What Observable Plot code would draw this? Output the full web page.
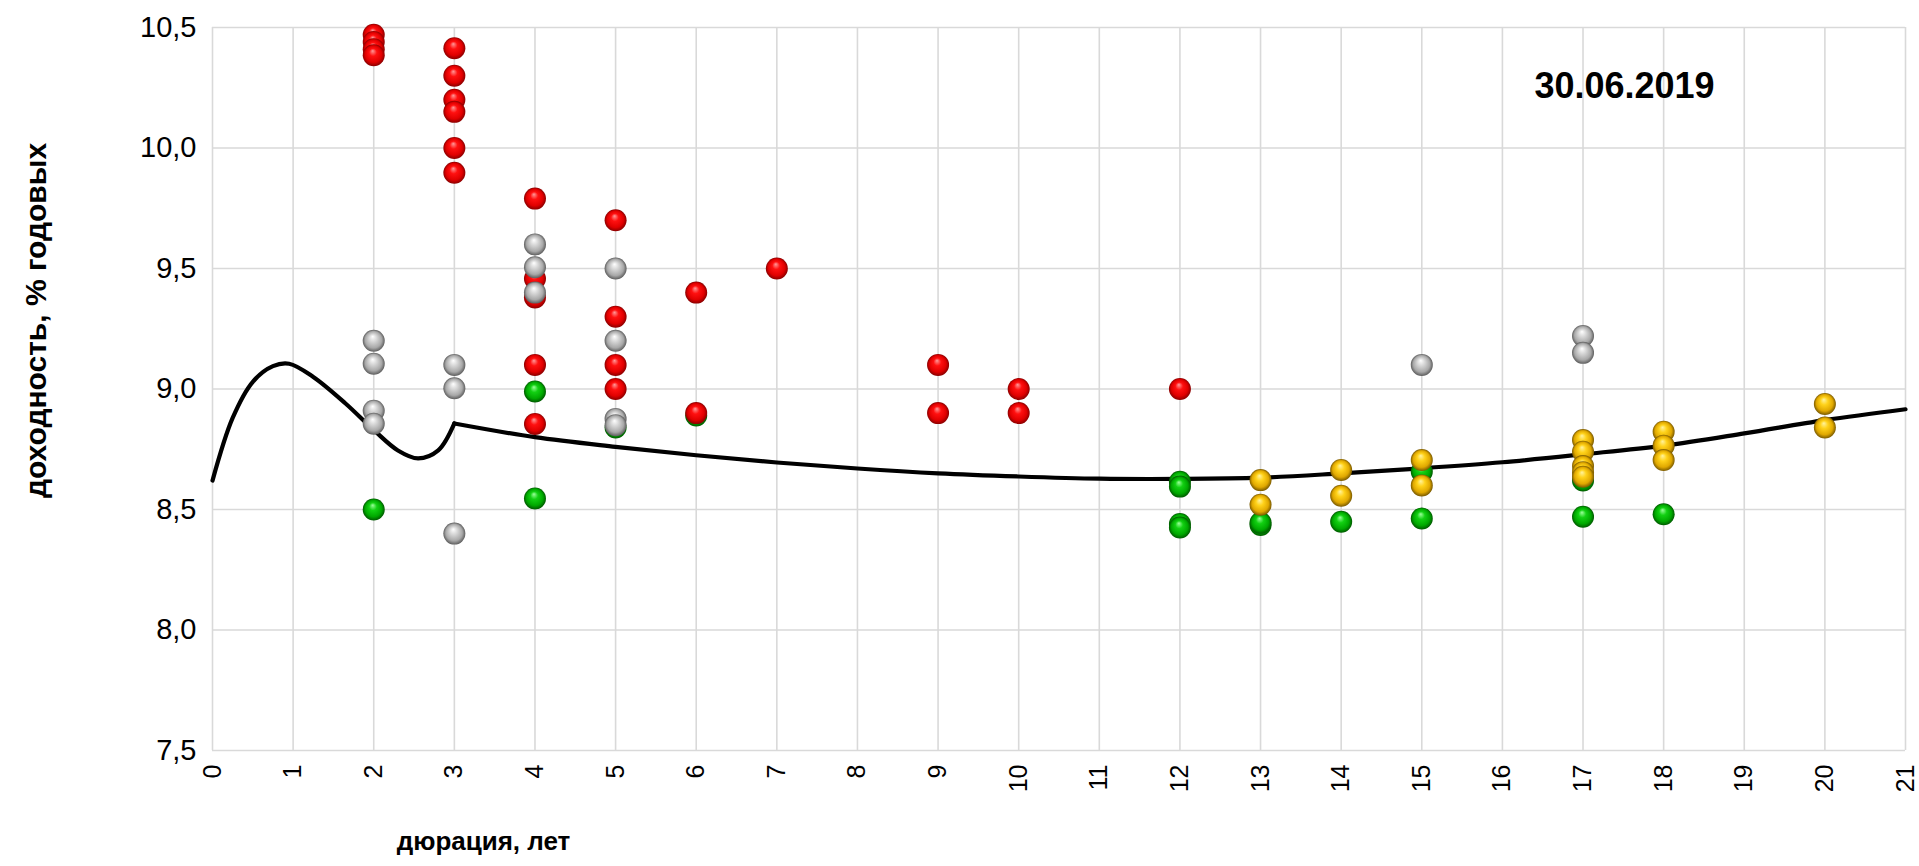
<!DOCTYPE html>
<html>
<head>
<meta charset="utf-8">
<script src="https://cdn.jsdelivr.net/npm/d3@7"></script>
<script src="https://cdn.jsdelivr.net/npm/@observablehq/plot@0.6"></script>
<style>
  html, body { margin: 0; padding: 0; background: #fff; }
  svg { display: block; }
</style>
</head>
<body>
<div id="chart"></div>
<script>
// ---- data ----
const xTicks = d3.range(0, 22);
const yTicks = [7.5, 8.0, 8.5, 9.0, 9.5, 10.0, 10.5];

const greenDur   = [2, 4, 4, 5, 6, 12, 12, 12, 12, 13, 13, 14, 15, 15, 17, 17, 18];
const greenYield = [8.50, 8.99, 8.546, 8.84, 8.89, 8.615, 8.595, 8.44, 8.425, 8.436, 8.445, 8.449, 8.657, 8.463, 8.62, 8.47, 8.48];

const redDur   = [2, 2, 2, 2, 3, 3, 3, 3, 3, 3, 4, 4, 4, 4, 4, 5, 5, 5, 5, 6, 6, 7, 9, 9, 10, 10, 12];
const redYield = [10.47, 10.44, 10.41, 10.385, 10.414, 10.30, 10.20, 10.15, 10.00, 9.897, 9.79, 9.457, 9.38, 9.10, 8.855, 9.70, 9.30, 9.10, 9.00, 9.40, 8.90, 9.50, 9.10, 8.90, 9.00, 8.90, 9.00];

const grayDur   = [2, 2, 2, 2, 3, 3, 3, 4, 4, 4, 5, 5, 5, 5, 15, 17, 17];
const grayYield = [9.20, 9.105, 8.91, 8.856, 9.10, 9.003, 8.40, 9.60, 9.505, 9.40, 9.50, 9.20, 8.876, 8.85, 9.10, 9.22, 9.15];

const goldDur   = [13, 13, 14, 14, 15, 15, 17, 17, 17, 17, 17, 18, 18, 18, 20, 20];
const goldYield = [8.622, 8.52, 8.664, 8.557, 8.705, 8.60, 8.788, 8.74, 8.68, 8.655, 8.636, 8.823, 8.765, 8.705, 8.938, 8.84];

const curveDurA   = [0, 0.25, 0.5, 0.75, 0.95, 1.25, 1.65, 2.0, 2.3, 2.55, 2.8, 3.0];
const curveYieldA = [8.62, 8.88, 9.03, 9.095, 9.105, 9.05, 8.94, 8.83, 8.745, 8.712, 8.745, 8.857];
const curveDurB   = [3, 4, 5, 6, 7, 8, 9, 10, 11, 12, 13, 14, 15, 16, 17, 18, 19, 20, 21];
const curveYieldB = [8.857, 8.80, 8.76, 8.725, 8.695, 8.67, 8.65, 8.637, 8.628, 8.627, 8.632, 8.65, 8.671, 8.696, 8.729, 8.765, 8.816, 8.871, 8.916];

const dateLabel = "30.06.2019";
const xTitle = "дюрация, лет";
const yTitle = "доходность, % годовых";

// ---- build tables ----
const pts = (xs, ys) => xs.map((x, i) => ({x, y: ys[i]}));
const curve = [
  ...pts(curveDurA, curveYieldA).map(d => ({...d, seg: "a"})),
  ...pts(curveDurB, curveYieldB).map(d => ({...d, seg: "b"}))
];

const R = 11;
const W = 1919, H = 866;

const svg = Plot.plot({
  width: W,
  height: H,
  marginLeft: 212,
  marginRight: 14,
  marginTop: 27,
  marginBottom: 116,
  style: {fontFamily: "'Liberation Sans', Arial, sans-serif", fontSize: "28px", color: "#000", background: "#fff", overflow: "visible"},
  x: {domain: [0, 21]},
  y: {domain: [7.5, 10.5]},
  marks: [
    Plot.gridX(xTicks, {stroke: "#d9d9d9", strokeOpacity: 1, strokeWidth: 1.6}),
    Plot.gridY(yTicks, {stroke: "#d9d9d9", strokeOpacity: 1, strokeWidth: 1.6}),
    Plot.axisY(yTicks, {tickSize: 0, tickPadding: 16, fontSize: 29, tickFormat: d => d.toFixed(1).replace(".", ","), label: null}),
    Plot.axisX(xTicks, {tickSize: 0, tickPadding: 14, tickRotate: -90, fontSize: 25, label: null}),
    Plot.line(curve, {x: "x", y: "y", z: "seg", curve: "catmull-rom", stroke: "#000", strokeWidth: 4.2}),
    Plot.dot(pts(greenDur, greenYield), {x: "x", y: "y", r: R, fill: "url(#sphGreen)", stroke: "none"}),
    Plot.dot(pts(redDur, redYield), {x: "x", y: "y", r: R, fill: "url(#sphRed)", stroke: "none"}),
    Plot.dot(pts(grayDur, grayYield), {x: "x", y: "y", r: R, fill: "url(#sphGray)", stroke: "none"}),
    Plot.dot(pts(goldDur, goldYield), {x: "x", y: "y", r: R, fill: "url(#sphGold)", stroke: "none"}),
    Plot.text([dateLabel], {frameAnchor: "top-left", dx: 1412, dy: 45, text: d => d, fontSize: 36, fontWeight: "bold", textAnchor: "middle"}),
    Plot.text([xTitle], {frameAnchor: "bottom-left", dx: 271, dy: 99, text: d => d, fontSize: 26, fontWeight: "bold", textAnchor: "middle"}),
    Plot.text([yTitle], {frameAnchor: "top-left", dx: -188, dy: 293, text: d => d, fontSize: 30, fontWeight: "bold", rotate: -90, textAnchor: "middle"})
  ]
});

// sphere gradients
const defs = d3.select(svg).insert("defs", ":first-child");
const grads = {
  sphRed:   ["#ff9a9a", "#ff1010", "#e00000", "#8a0000"],
  sphGray:  ["#ffffff", "#d6d6d6", "#a8a8a8", "#5e5e5e"],
  sphGreen: ["#9cff9c", "#12d012", "#00a800", "#005a00"],
  sphGold:  ["#fff3a0", "#ffd21a", "#e0a800", "#7a5a00"]
};
for (const [id, c] of Object.entries(grads)) {
  const g = defs.append("radialGradient").attr("id", id)
    .attr("cx", "50%").attr("cy", "50%").attr("r", "50%")
    .attr("fx", "45%").attr("fy", "30%");
  g.append("stop").attr("offset", "0%").attr("stop-color", c[0]);
  g.append("stop").attr("offset", "35%").attr("stop-color", c[1]);
  g.append("stop").attr("offset", "75%").attr("stop-color", c[2]);
  g.append("stop").attr("offset", "100%").attr("stop-color", c[3]);
}

document.getElementById("chart").appendChild(svg);
</script>
</body>
</html>
